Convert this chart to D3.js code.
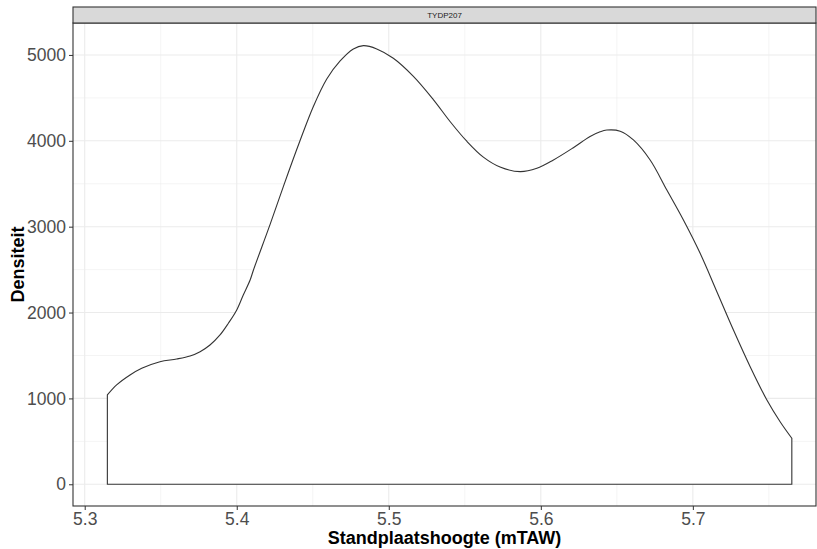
<!DOCTYPE html>
<html>
<head>
<meta charset="utf-8">
<script src="https://cdn.jsdelivr.net/npm/d3@7"></script>
<style>
  body { margin: 0; background: #fff; }
  svg { display: block; font-family: "Liberation Sans", Arial, sans-serif; }
</style>
</head>
<body>
<div id="chart"></div>
<script>
// density curve
const heights = [5.3149, 5.321, 5.3298, 5.3375, 5.3495, 5.3605, 5.3693, 5.3759, 5.3824, 5.389,
  5.3945, 5.4, 5.4043, 5.4088, 5.411, 5.422, 5.4307, 5.4416, 5.4504, 5.4592, 5.468, 5.4767,
  5.4833, 5.4921, 5.503, 5.5162, 5.5293, 5.5403, 5.5513, 5.5622, 5.5732, 5.5864, 5.5974,
  5.6083, 5.6214, 5.6324, 5.639, 5.6434, 5.6522, 5.6609, 5.6719, 5.6829, 5.6938, 5.7048, 5.7158,
  5.7267, 5.7377, 5.7487, 5.7574, 5.7651];
const density = [1040, 1157, 1273, 1351, 1428, 1459, 1494, 1544, 1622, 1739,
  1875, 2030, 2204, 2379, 2496, 3030, 3470, 4000, 4400, 4720, 4930, 5070,
  5108, 5070, 4961, 4750, 4480, 4225, 3995, 3810, 3695, 3641, 3680,
  3777, 3920, 4050, 4105, 4125, 4112, 4010, 3777, 3427, 3078, 2690, 2243,
  1797, 1370, 982, 729, 536];
const xTicks = [5.3, 5.4, 5.5, 5.6, 5.7];
const xMinor = [5.35, 5.45, 5.55, 5.65, 5.75];
const yTicks = [0, 1000, 2000, 3000, 4000, 5000];
const yMinor = [500, 1500, 2500, 3500, 4500];
const facetLabel = "TYDP207";

const width = 817, height = 549;
const panel = {left: 73, right: 816, top: 23, bottom: 506};

const svg = d3.select("#chart").append("svg")
  .attr("width", width)
  .attr("height", height);

svg.append("rect").attr("width", width).attr("height", height).attr("fill", "#fff");

const x = d3.scaleLinear()
  .domain([5.2923, 5.781])
  .range([panel.left, panel.right]);

const y = d3.scaleLinear()
  .domain([-253, 5372])
  .range([panel.bottom, panel.top]);

// grid
const grid = svg.append("g");
grid.selectAll(".xminor").data(xMinor).join("line")
  .attr("x1", d => x(d)).attr("x2", d => x(d))
  .attr("y1", panel.top).attr("y2", panel.bottom)
  .attr("stroke", "#ebebeb").attr("stroke-width", 0.55);
grid.selectAll(".yminor").data(yMinor).join("line")
  .attr("y1", d => y(d)).attr("y2", d => y(d))
  .attr("x1", panel.left).attr("x2", panel.right)
  .attr("stroke", "#ebebeb").attr("stroke-width", 0.55);
grid.selectAll(".xmajor").data(xTicks).join("line")
  .attr("x1", d => x(d)).attr("x2", d => x(d))
  .attr("y1", panel.top).attr("y2", panel.bottom)
  .attr("stroke", "#ebebeb").attr("stroke-width", 1.1);
grid.selectAll(".ymajor").data(yTicks).join("line")
  .attr("y1", d => y(d)).attr("y2", d => y(d))
  .attr("x1", panel.left).attr("x2", panel.right)
  .attr("stroke", "#ebebeb").attr("stroke-width", 1.1);

// density polygon
const pts = heights.map((h, i) => ({x: h, y: density[i]}));
const area = d3.area()
  .x(d => x(d.x))
  .y0(y(0))
  .y1(d => y(d.y))
  .curve(d3.curveCatmullRom);

svg.append("path")
  .datum(pts)
  .attr("d", area)
  .attr("fill", "#fff")
  .attr("stroke", "#333")
  .attr("stroke-width", 1.1);

// panel border
svg.append("rect")
  .attr("x", panel.left).attr("y", panel.top)
  .attr("width", panel.right - panel.left).attr("height", panel.bottom - panel.top)
  .attr("fill", "none").attr("stroke", "#333").attr("stroke-width", 1.1);

// strip
svg.append("rect")
  .attr("x", panel.left).attr("y", 7)
  .attr("width", panel.right - panel.left).attr("height", panel.top - 7)
  .attr("fill", "#d9d9d9").attr("stroke", "#333").attr("stroke-width", 1.1);
svg.append("text")
  .attr("x", (panel.left + panel.right) / 2).attr("y", 15)
  .attr("text-anchor", "middle").attr("dominant-baseline", "central")
  .attr("font-size", 8).attr("fill", "#1a1a1a")
  .text(facetLabel);

// axes
const xAxis = svg.append("g")
  .attr("transform", `translate(0,${panel.bottom})`)
  .call(d3.axisBottom(x).tickValues(xTicks).tickFormat(d3.format(".1f")).tickSizeOuter(0).tickSize(4).tickPadding(3));
xAxis.select(".domain").remove();
xAxis.selectAll("line").attr("stroke", "#333");
xAxis.selectAll("text").attr("font-size", 17.5).attr("fill", "#4d4d4d").attr("font-family", "Liberation Sans, Arial, sans-serif");

const yAxis = svg.append("g")
  .attr("transform", `translate(${panel.left},0)`)
  .call(d3.axisLeft(y).tickValues(yTicks).tickFormat(d3.format("d")).tickSizeOuter(0).tickSize(4).tickPadding(3));
yAxis.select(".domain").remove();
yAxis.selectAll("line").attr("stroke", "#333");
yAxis.selectAll("text").attr("font-size", 17.5).attr("fill", "#4d4d4d").attr("font-family", "Liberation Sans, Arial, sans-serif");

// titles
svg.append("text")
  .attr("x", (panel.left + panel.right) / 2).attr("y", 544)
  .attr("text-anchor", "middle")
  .attr("font-size", 18).attr("font-weight", "bold").attr("fill", "#000")
  .text("Standplaatshoogte (mTAW)");

svg.append("text")
  .attr("transform", `translate(24,${(panel.top + panel.bottom) / 2}) rotate(-90)`)
  .attr("text-anchor", "middle")
  .attr("font-size", 18).attr("font-weight", "bold").attr("fill", "#000")
  .text("Densiteit");
</script>
</body>
</html>
